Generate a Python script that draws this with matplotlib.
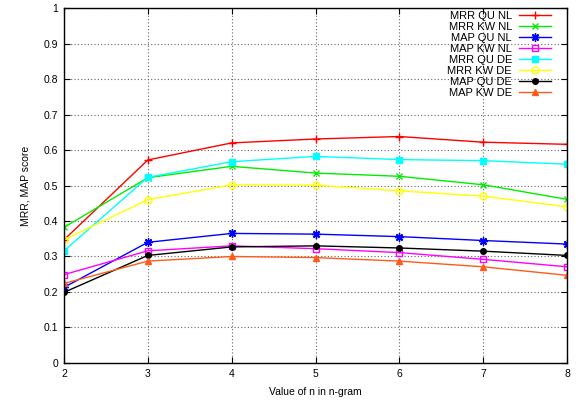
import matplotlib
matplotlib.use("Agg")
import matplotlib.pyplot as plt

plt.rcParams['font.family'] = ['Liberation Sans', 'DejaVu Sans']

n_values = [2, 3, 4, 5, 6, 7, 8]

mrr_qu_nl = [0.347, 0.572, 0.620, 0.631, 0.638, 0.622, 0.616]
mrr_kw_nl = [0.382, 0.522, 0.554, 0.535, 0.526, 0.502, 0.461]
map_qu_nl = [0.213, 0.340, 0.365, 0.363, 0.356, 0.345, 0.335]
map_kw_nl = [0.249, 0.316, 0.330, 0.322, 0.311, 0.292, 0.271]
mrr_qu_de = [0.316, 0.523, 0.567, 0.582, 0.573, 0.570, 0.560]
mrr_kw_de = [0.347, 0.460, 0.502, 0.501, 0.485, 0.470, 0.440]
map_qu_de = [0.199, 0.303, 0.327, 0.330, 0.324, 0.315, 0.303]
map_kw_de = [0.224, 0.287, 0.300, 0.297, 0.287, 0.271, 0.247]

labels = ["MRR QU NL", "MRR KW NL", "MAP QU NL", "MAP KW NL",
          "MRR QU DE", "MRR KW DE", "MAP QU DE", "MAP KW DE"]
series = [mrr_qu_nl, mrr_kw_nl, map_qu_nl, map_kw_nl,
          mrr_qu_de, mrr_kw_de, map_qu_de, map_kw_de]

# gnuplot-like styles
styles = [
    dict(color="#ff0000", marker="+", ms=6, mfc="none"),
    dict(color="#00ee00", marker="x", ms=5, mfc="none"),
    dict(color="#0000ff", marker=(8, 2, 0), ms=6, mfc="none"),
    dict(color="#ff00ff", marker="s", ms=5, mfc="none"),
    dict(color="#00ffff", marker="s", ms=5),
    dict(color="#ffff00", marker="o", ms=5, mfc="none"),
    dict(color="#000000", marker="o", ms=4),
    dict(color="#ff5a1a", marker="^", ms=5),
]

fig = plt.figure(figsize=(5.84, 4.01), dpi=100)
ax = fig.add_axes([0.1096, 0.0948, 0.8614, 0.8852])

for vals, lab, st in zip(series, labels, styles):
    ax.plot(n_values, vals, label=lab, lw=1.0, mew=1.0, **st)

ax.set_xlim(2, 8)
ax.set_ylim(0, 1)
ax.set_xticks(n_values)
ax.set_yticks([i / 10 for i in range(11)])
ax.set_yticklabels(["0"] + [f"{i/10:g}" for i in range(1, 10)] + ["1"])
ax.tick_params(direction="in", length=4, width=0.8, labelsize=7.5,
               top=True, right=True, pad=4)
ax.grid(True, color="#666666", linestyle=(0, (1, 2)), linewidth=0.8)
for sp in ax.spines.values():
    sp.set_linewidth(1.0)

ax.set_xlabel("Value of n in n-gram", fontsize=7.5, labelpad=6)
ax.set_ylabel("MRR, MAP score", fontsize=7.5, labelpad=10)

ax.legend(loc="upper right", bbox_to_anchor=(0.968, 0.993),
          frameon=False, markerfirst=False, fontsize=8,
          handlelength=2.9, labelspacing=0.1, borderpad=0,
          borderaxespad=0, handletextpad=0.6)

fig.savefig("out.png", dpi=100)
